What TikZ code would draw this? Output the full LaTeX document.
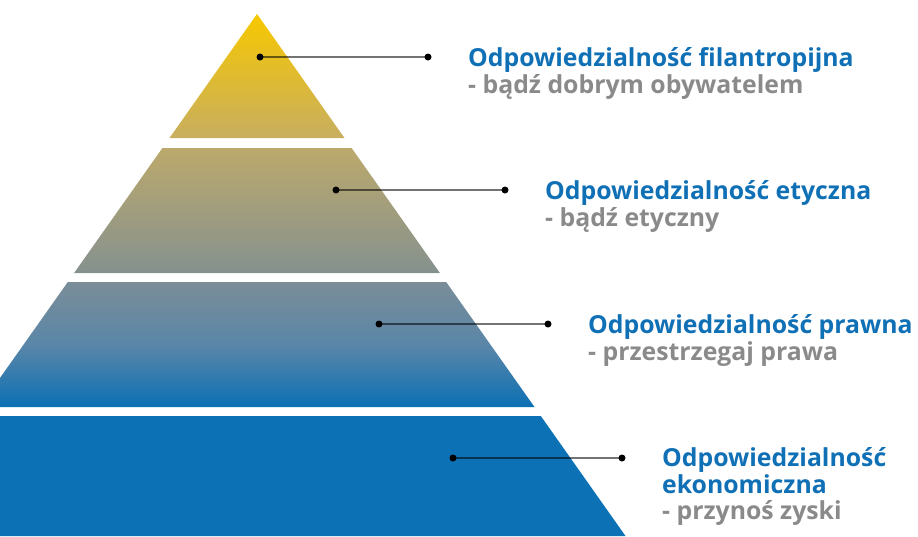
\documentclass[tikz,border=0pt]{standalone}
\usepackage{fontspec}
\setmainfont{Open Sans}
\usepackage{tikz}
\usetikzlibrary{calc,positioning}

\definecolor{pyrA}{HTML}{F7C800}
\definecolor{pyrB}{HTML}{C8AE60}
\definecolor{pyrC}{HTML}{BCA96C}
\definecolor{pyrD}{HTML}{85918F}
\definecolor{pyrE}{HTML}{7A8D98}
\definecolor{pyrF}{HTML}{5A86A8}
\definecolor{pyrG}{HTML}{0C70B4}
\definecolor{pyrBlue}{HTML}{0C72B5}
\definecolor{csrBlue}{HTML}{1070B6}
\definecolor{csrGray}{HTML}{8A8A8A}

% yellow at the apex, blue at the foot of the third band
\pgfdeclareverticalshading{pyrshade}{100bp}{
  color(0bp)=(pyrG); color(25bp)=(pyrG); color(32.89bp)=(pyrF);
  color(40.90bp)=(pyrE); color(42.05bp)=(pyrD); color(57.95bp)=(pyrC);
  color(59.22bp)=(pyrB); color(75bp)=(pyrA); color(100bp)=(pyrA)}

\tikzset{
  dot/.style={circle,fill=black,inner sep=0pt,minimum size=7pt},
  leader/.style={black,opacity=0.55,line width=1.3pt},
  title/.style={anchor=base west,inner sep=0pt,text=csrBlue,align=left,
    font=\fontsize{24.8}{27}\selectfont\bfseries},
  motto/.style={anchor=base west,inner sep=0pt,text=csrGray,
    font=\fontsize{24.8}{27}\selectfont\bfseries}
}

\begin{document}
\begin{tikzpicture}[x=1pt,y=-1pt]
  \clip (0,0) rectangle (918,536);

  % upper three bands share one shading
  \begin{scope}
    \clip (257,14) -- (344.5,138) -- (169.5,138) -- cycle
          (162.4,148) -- (351.6,148) -- (439.9,273) -- (74.1,273) -- cycle
          (67.8,282) -- (446.2,282) -- (534.5,407) -- (-20.5,407) -- cycle;
    \shade[shading=pyrshade] (-40,14) rectangle (660,407);
  \end{scope}
  \fill[pyrBlue] (-26.8,416) -- (540.8,416) -- (625.5,536) -- (-111.5,536) -- cycle;

  % leaders
  \node[dot] (d1a) at (260,57) {};
  \node[dot] (d1b) at (428,57) {};
  \node[dot] (d2a) at (336,190) {};
  \node[dot] (d2b) at (505,190) {};
  \node[dot] (d3a) at (379,324) {};
  \node[dot] (d3b) at (548,324) {};
  \node[dot] (d4a) at (453,458) {};
  \node[dot] (d4b) at (622,458) {};
  \draw[leader] (d1a.center) -- (d1b.center);
  \draw[leader] (d2a.center) -- (d2b.center);
  \draw[leader] (d3a.center) -- (d3b.center);
  \draw[leader] (d4a.center) -- (d4b.center);

  % labels
  \node[title] (t1) at ([xshift=40pt,yshift=-9pt]d1b.center) {Odpowiedzialność filantropijna};
  \node[motto] (m1) at ([yshift=-27pt]t1.base west) {- bądź dobrym obywatelem};
  \node[title] (t2) at ([xshift=40pt,yshift=-9pt]d2b.center) {Odpowiedzialność etyczna};
  \node[motto] (m2) at ([yshift=-27pt]t2.base west) {- bądź etyczny};
  \node[title] (t3) at ([xshift=40pt,yshift=-9pt]d3b.center) {Odpowiedzialność prawna};
  \node[motto] (m3) at ([yshift=-27pt]t3.base west) {- przestrzegaj prawa};
  \node[title] (t4) at ([xshift=40pt,yshift=-35pt]d4b.center) {Odpowiedzialność\\ekonomiczna};
  \node[motto] (m4) at ([yshift=-26pt]t4.base west) {- przynoś zyski};
\end{tikzpicture}
\end{document}
